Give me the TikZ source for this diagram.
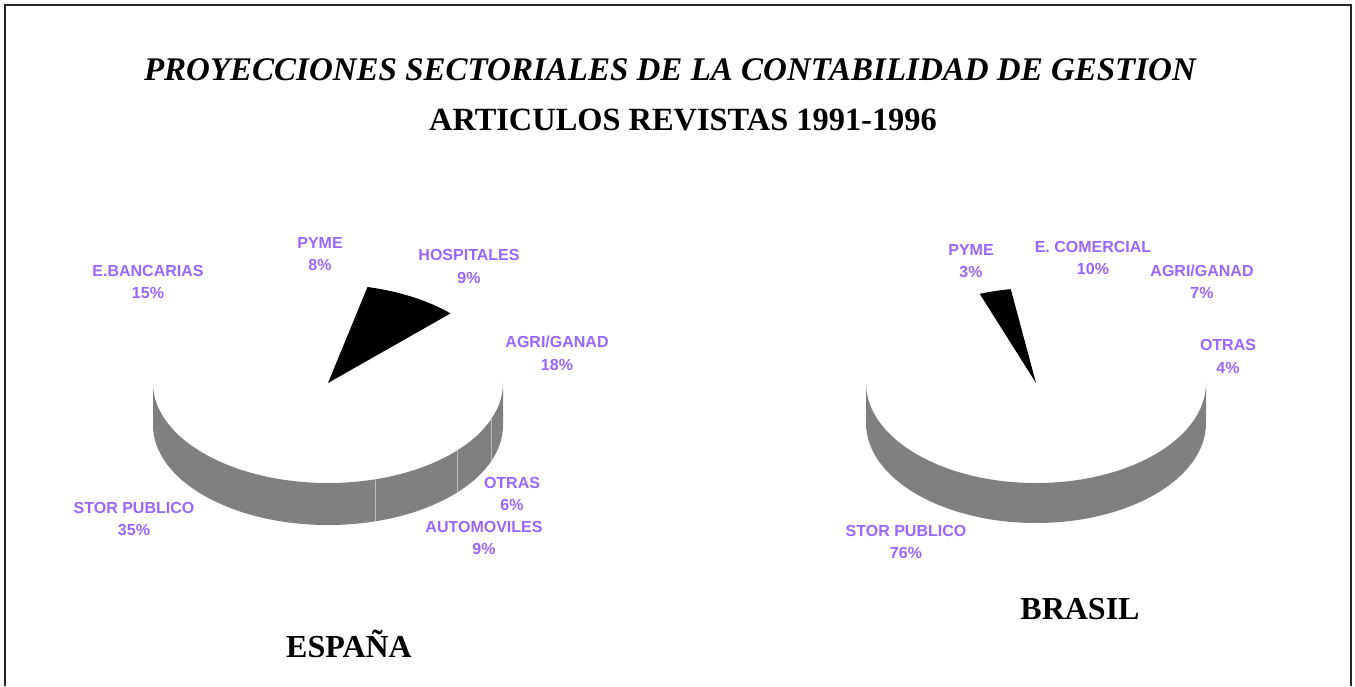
\documentclass[tikz,border=0pt]{standalone}
\usepackage{fontspec}
\setmainfont{Liberation Serif}
\newfontfamily\lblfont{Liberation Sans}
\usetikzlibrary{calc}
\definecolor{lblcol}{HTML}{9966FF}
\definecolor{sidecol}{HTML}{808080}
\definecolor{divcol}{HTML}{B8B8B8}
\tikzset{
  lbl/.style={text=lblcol, font=\lblfont\bfseries\fontsize{16}{22.5}\selectfont, align=center, inner sep=0pt},
  ttlit/.style={font=\bfseries\itshape\fontsize{33}{36}\selectfont, inner sep=0pt},
  ttlbf/.style={font=\bfseries\fontsize{32.4}{36}\selectfont, inner sep=0pt},
  cty/.style={font=\bfseries\fontsize{32}{36}\selectfont, inner sep=0pt},
  sidefill/.style={fill=sidecol},
  divline/.style={draw=divcol, line width=0.9pt},
  slicefill/.style={fill=black},
  frameline/.style={draw=black!85, line width=2pt}
}
\begin{document}
\begin{tikzpicture}[x=1pt,y=1pt]
\useasboundingbox (0,0) rectangle (1355,-686);
\draw[frameline] (5,-686) -- (5,-5) -- (1350.5,-5) -- (1350.5,-686);

% titles
\node[ttlit] (t1) at (670,-70) {PROYECCIONES SECTORIALES DE LA CONTABILIDAD DE GESTION};
\node[ttlbf] (t2) at (683,-120) {ARTICULOS REVISTAS 1991-1996};

% Espana pie
\coordinate (ec) at (328,-383);
\path[sidefill] ($(ec)+(-175,0)$) -- ++(0,-42)
  arc[start angle=180,end angle=360,x radius=175pt,y radius=100pt] -- ++(0,42)
  arc[start angle=360,end angle=180,x radius=175pt,y radius=100pt] -- cycle;
\foreach \a in {-74.2,-42.4,-20.7}{
  \draw[divline] ($(ec)+(\a:175pt and 100pt)$) -- ++(0,-42);
}
\path[slicefill] (ec) -- ($(ec)+(76.8:173pt and 98.6pt)$)
  arc[start angle=76.8,end angle=44.9,x radius=173pt,y radius=98.6pt] -- cycle;

% Brasil pie
\coordinate (bc) at (1036,-383);
\path[sidefill] ($(bc)+(-170,0)$) -- ++(0,-40)
  arc[start angle=180,end angle=360,x radius=170pt,y radius=100pt] -- ++(0,40)
  arc[start angle=360,end angle=180,x radius=170pt,y radius=100pt] -- cycle;
\path[slicefill] (bc) -- ($(bc)+(110.2:163pt and 95pt)$)
  arc[start angle=110.2,end angle=98.9,x radius=163pt,y radius=95pt] -- cycle;

% Espana labels
\node[lbl] (eban) at (148,-282) {E.BANCARIAS\\15\%};
\node[lbl] (epyme) at (320,-254) {PYME\\8\%};
\node[lbl] (ehosp) at (469,-266.5) {HOSPITALES\\9\%};
\node[lbl] (eagri) at (557,-353.5) {AGRI/GANAD\\18\%};
\node[lbl] (eotr) at (512,-494) {OTRAS\\6\%};
\node[lbl] (eauto) at (484,-538) {AUTOMOVILES\\9\%};
\node[lbl] (estor) at (134,-519) {STOR PUBLICO\\35\%};

% Brasil labels
\node[lbl] (bpyme) at (971,-261) {PYME\\3\%};
\node[lbl] (bcom) at (1093,-258) {E. COMERCIAL\\10\%};
\node[lbl] (bagri) at (1202,-282) {AGRI/GANAD\\7\%};
\node[lbl] (botr) at (1228,-356.5) {OTRAS\\4\%};
\node[lbl] (bstor) at (906,-542) {STOR PUBLICO\\76\%};

% country names
\node[cty] (esp) at (349,-644) {ESPAÑA};
\node[cty] (bra) at (1080,-609) {BRASIL};
\end{tikzpicture}
\end{document}
